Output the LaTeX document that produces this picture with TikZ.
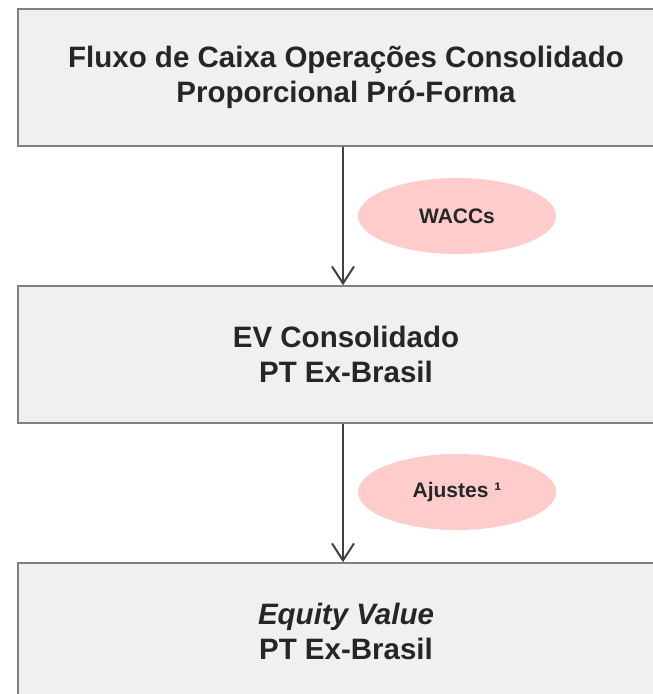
\documentclass[tikz,border=0pt]{standalone}
\usepackage{fontspec}
\setmainfont{Liberation Sans}
\usetikzlibrary{shapes.geometric,arrows.meta}
\definecolor{boxfill}{HTML}{F0F0F0}
\definecolor{boxline}{HTML}{808080}
\definecolor{arrowc}{HTML}{404040}
\definecolor{ovalfill}{HTML}{FFCCCC}
\definecolor{txt}{HTML}{262626}
\tikzset{
  bigbox/.style={draw=boxline, fill=boxfill, line width=1.5pt, minimum width=656pt, minimum height=137pt, inner sep=0pt, align=center, text=txt, font=\fontsize{29.5}{34.5}\selectfont\bfseries},
  oval/.style={ellipse, fill=ovalfill, draw=none, minimum width=198pt, minimum height=76pt, inner sep=0pt, text=txt, font=\fontsize{21}{24}\selectfont\bfseries},
  flow/.style={draw=arrowc, line width=2pt, -{Straight Barb[length=17pt,width=22pt,line width=2pt]}}
}
\begin{document}
\begin{tikzpicture}[x=1pt,y=-1pt]
\useasboundingbox (0,0) rectangle (653,694);
\clip (0,0) rectangle (653,694);
\node[bigbox] (top) at (346,77.5) {Fluxo de Caixa Operações Consolidado\\Proporcional Pró-Forma};
\node[bigbox] (mid) at (346,354.5) {EV Consolidado\\PT Ex-Brasil};
\node[bigbox] (bot) at (346,631.5) {\textit{Equity Value}\\PT Ex-Brasil};
\coordinate (ax) at (343,0);
\draw[flow] (top.south -| ax) -- (mid.north -| ax);
\draw[flow] (mid.south -| ax) -- (bot.north -| ax);
\node[oval] (w) at (457,216) {WACCs};
\node[oval] (aj) at (457,492) {Ajustes ¹};
\end{tikzpicture}
\end{document}
